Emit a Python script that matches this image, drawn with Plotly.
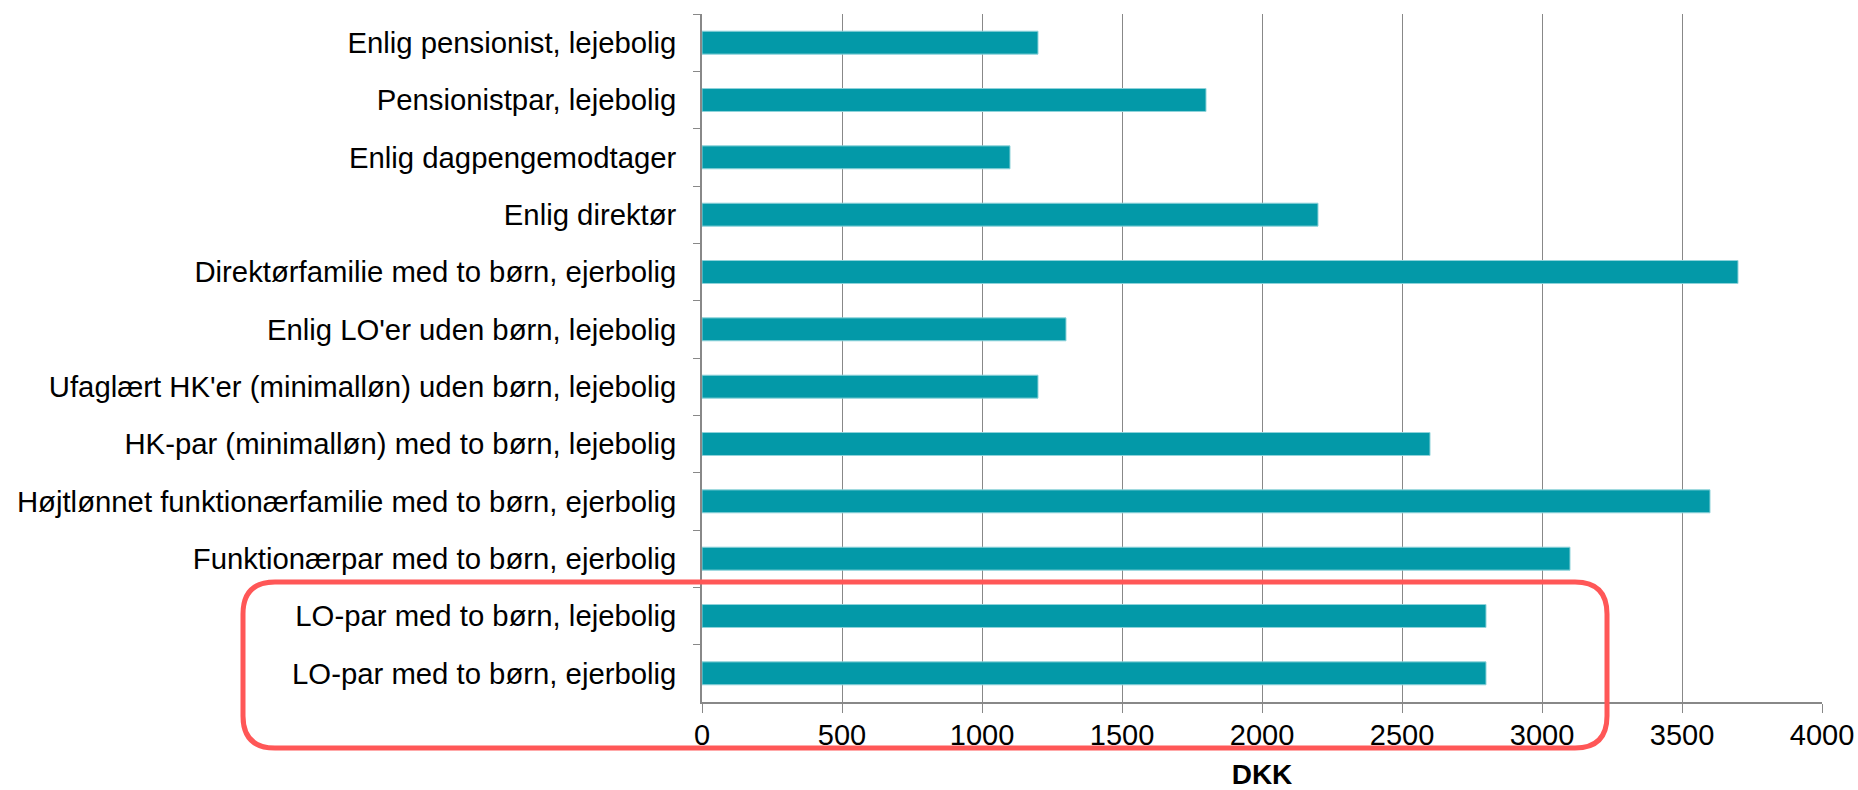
import plotly.graph_objects as go

# Household types (top to bottom) and their amounts in DKK
categories = [
    "Enlig pensionist, lejebolig",
    "Pensionistpar, lejebolig",
    "Enlig dagpengemodtager",
    "Enlig direktør",
    "Direktørfamilie med to børn, ejerbolig",
    "Enlig LO'er uden børn, lejebolig",
    "Ufaglært HK'er (minimalløn) uden børn, lejebolig",
    "HK-par (minimalløn) med to børn, lejebolig",
    "Højtlønnet funktionærfamilie med to børn, ejerbolig",
    "Funktionærpar med to børn, ejerbolig",
    "LO-par med to børn, lejebolig",
    "LO-par med to børn, ejerbolig",
]
values = [1200, 1800, 1100, 2200, 3700, 1300, 1200, 2600, 3600, 3100, 2800, 2800]
x_ticks = [0, 500, 1000, 1500, 2000, 2500, 3000, 3500, 4000]

W, H = 1858, 790
M_L, M_R, M_T, M_B = 702, 36, 14, 88
PW, PH = W - M_L - M_R, H - M_T - M_B

BAR = "#0399a8"
GRID = "#888888"
FONT = "Liberation Sans, Arial, sans-serif"


def px_x(p):
    return (p - M_L) / PW


def px_y(p):
    return (H - M_B - p) / PH


fig = go.Figure(
    go.Bar(
        x=values,
        y=categories,
        orientation="h",
        marker=dict(color=BAR, line=dict(color="#8fd3da", width=1)),
        hoverinfo="x+y",
    )
)

# Rounded highlight frame around the two LO-par rows
x0, x1, y0, y1, r = 243, 1607, 582, 748, 32
path = (
    f"M {px_x(x0 + r)},{px_y(y0)} "
    f"L {px_x(x1 - r)},{px_y(y0)} "
    f"Q {px_x(x1)},{px_y(y0)} {px_x(x1)},{px_y(y0 + r)} "
    f"L {px_x(x1)},{px_y(y1 - r)} "
    f"Q {px_x(x1)},{px_y(y1)} {px_x(x1 - r)},{px_y(y1)} "
    f"L {px_x(x0 + r)},{px_y(y1)} "
    f"Q {px_x(x0)},{px_y(y1)} {px_x(x0)},{px_y(y1 - r)} "
    f"L {px_x(x0)},{px_y(y0 + r)} "
    f"Q {px_x(x0)},{px_y(y0)} {px_x(x0 + r)},{px_y(y0)} Z"
)
fig.add_shape(
    type="path",
    path=path,
    xref="paper",
    yref="paper",
    line=dict(color="#ff5757", width=5),
    fillcolor="rgba(0,0,0,0)",
    layer="above",
)

fig.update_layout(
    width=W,
    height=H,
    margin=dict(l=M_L, r=M_R, t=M_T, b=M_B, autoexpand=False),
    paper_bgcolor="white",
    plot_bgcolor="white",
    bargap=0.6,
    showlegend=False,
    font=dict(family=FONT, size=29, color="black"),
    xaxis=dict(
        range=[0, 4000],
        tickvals=x_ticks,
        ticktext=[str(v) for v in x_ticks],
        showgrid=True,
        gridcolor=GRID,
        gridwidth=1.3,
        showline=True,
        linecolor=GRID,
        linewidth=1.5,
        ticks="outside",
        ticklen=9,
        tickwidth=1.3,
        tickcolor=GRID,
        ticklabelstandoff=-3,
        zeroline=False,
        tickfont=dict(family=FONT, size=29, color="black"),
        title=dict(
            text="<b>DKK</b>",
            font=dict(family=FONT, size=28, color="black"),
            standoff=27,
        ),
    ),
    yaxis=dict(
        autorange="reversed",
        type="category",
        showgrid=False,
        showline=True,
        linecolor=GRID,
        linewidth=1.5,
        ticks="outside",
        tickson="boundaries",
        ticklen=7,
        tickwidth=1.3,
        tickcolor=GRID,
        ticklabelstandoff=18,
        tickfont=dict(family=FONT, size=29.3, color="black"),
    ),
)

fig.write_html("out.html")
